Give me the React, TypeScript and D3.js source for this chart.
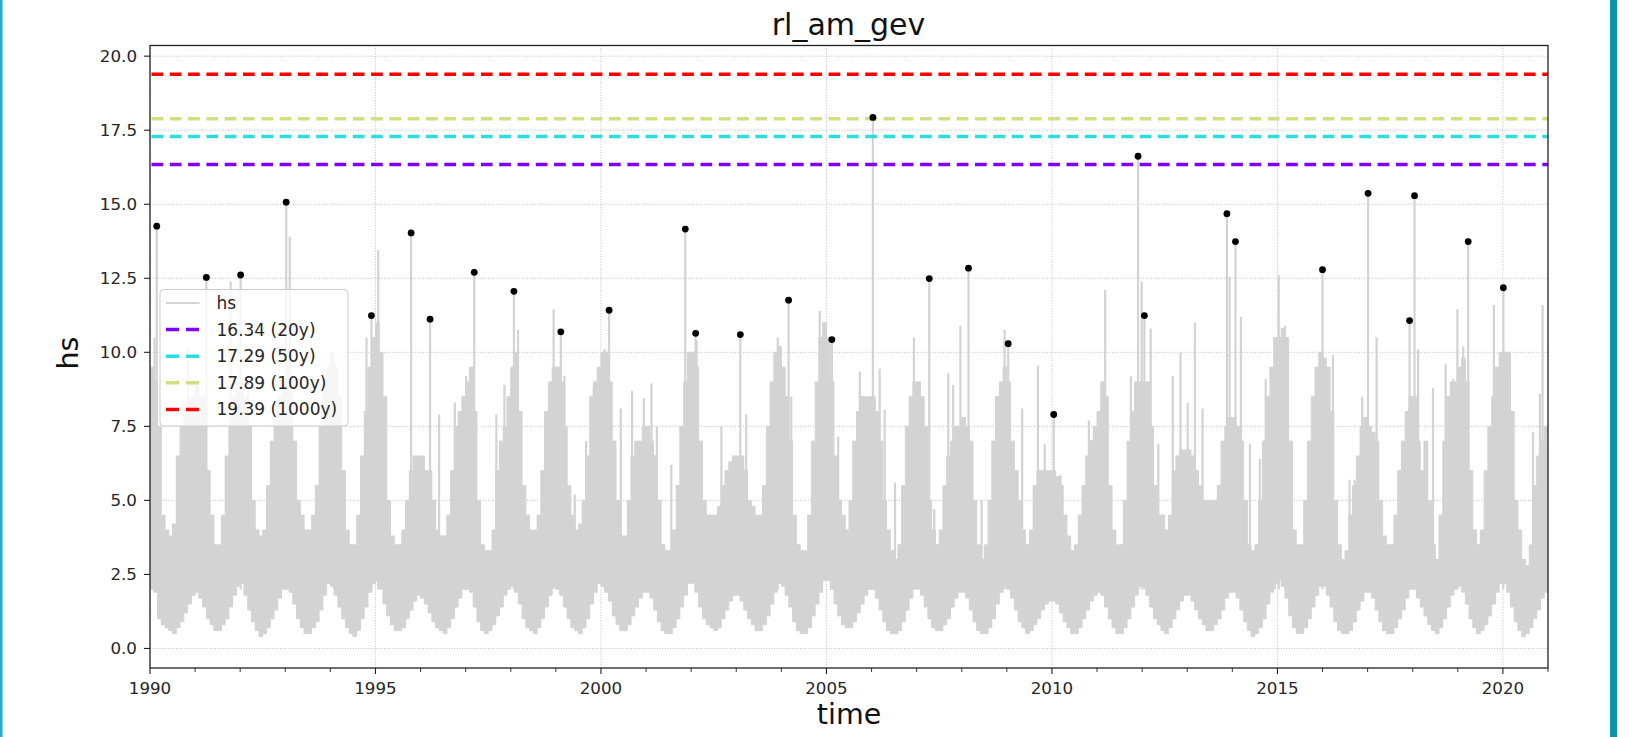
import React from "react";
import * as d3 from "d3";

// ---------- data ----------
const title = "rl_am_gev";
const xLabel = "time";
const yLabel = "hs";
const xTicks = [1990, 1995, 2000, 2005, 2010, 2015, 2020];
const yTicks = [0, 2.5, 5, 7.5, 10, 12.5, 15, 17.5, 20];

// return levels
const rlValues = [16.34, 17.29, 17.89, 19.39];
const rlLabels = ["16.34 (20y)", "17.29 (50y)", "17.89 (100y)", "19.39 (1000y)"];
const rlColors = ["#8000ff", "#2bdddd", "#d4dd80", "#ff0000"];

// annual maxima (decimal year, hs)
const amTimes = [
  1990.15, 1991.25, 1992.01, 1993.02, 1994.91, 1995.79, 1996.21, 1997.19, 1998.07, 1999.11,
  2000.18, 2001.87, 2002.1, 2003.09, 2004.16, 2005.12, 2006.03, 2007.28, 2008.15, 2009.03,
  2010.04, 2011.91, 2012.05, 2013.88, 2014.07, 2016.0, 2017.01, 2017.93, 2018.04, 2019.23,
  2020.01,
];
const amValues = [
  14.26, 12.53, 12.61, 15.07, 11.24, 14.03, 11.12, 12.7, 12.06, 10.69,
  11.42, 14.16, 10.64, 10.6, 11.76, 10.43, 17.93, 12.49, 12.84, 10.29,
  7.9, 16.62, 11.24, 14.68, 13.74, 12.79, 15.37, 11.07, 15.29, 13.74,
  12.18,
];

// monthly upper level of the dense hs trace (Jan..Dec per year)
const hsTop = [
  9.5, 9, 7.5, 4.5, 4, 3.8, 4.2, 6.5, 7.5, 8, 8.5, 8.5, // 1990
  9, 8.5, 8.5, 6, 4.5, 3.5, 3.5, 4.5, 6.5, 7.5, 8.5, 9, // 1991
  9, 8.5, 7.5, 5, 4, 3.8, 4, 5.5, 7, 8, 8.5, 9, // 1992
  9.5, 9, 7, 5, 4.5, 4, 4, 4.5, 5.5, 7.5, 9, 9.5, // 1993
  10, 9.5, 8.5, 6, 4, 3.5, 3.5, 4.5, 6.5, 8, 9.5, 10.5, // 1994
  11, 10, 8.5, 5, 3.8, 3.5, 3.5, 4, 5, 6, 6.5, 6.5, // 1995
  6.5, 6, 6, 5, 4, 3.8, 3.8, 4.5, 6, 7.5, 8, 8.5, // 1996
  9, 9.5, 8, 5, 3.5, 3.3, 3.3, 4, 6, 7, 7.5, 8.5, // 1997
  9.5, 10, 8, 5.5, 4.5, 4, 4, 4.5, 6, 8, 9, 9.5, // 1998
  9.5, 9, 7.5, 5.5, 4.5, 4, 4.2, 5, 6.5, 8.5, 9, 9.5, // 1999
  10, 10, 9, 7, 5, 3.8, 3.8, 5, 6.5, 7, 7, 7.5, // 2000
  7.5, 7, 6.5, 5, 3.5, 3.3, 3.3, 4, 5.5, 7.5, 9, 10, // 2001
  10, 9.5, 7, 5, 4.5, 4.5, 4.5, 4.8, 5.5, 6, 6.3, 6.5, // 2002
  6.5, 6.5, 6, 5, 4.8, 4.5, 4.5, 5.5, 7.5, 9, 10, 10.2, // 2003
  9.5, 8.5, 7, 4.5, 3.5, 3.3, 3.3, 4.5, 7, 9, 10.5, 11, // 2004
  10.5, 9, 6.5, 5, 4.5, 4, 5, 7, 8, 8.5, 8.5, 8.5, // 2005
  8.5, 8, 7, 5, 4, 3.3, 3, 3.5, 5.5, 7.5, 8.5, 9, // 2006
  9, 8.5, 7.5, 5, 4, 3.5, 4, 5.5, 6.5, 7, 7.5, 7.5, // 2007
  7.8, 7.5, 7, 5, 3.5, 3, 3.5, 5, 7, 8.5, 9, 9.5, // 2008
  9, 7, 6, 5, 4, 3.5, 4, 5.5, 6, 6, 6, 6, // 2009
  6, 5.8, 5.5, 4.5, 3.8, 3.3, 3.5, 4.5, 5.5, 6.5, 7, 7.5, // 2010
  8, 9, 8.5, 5.5, 4, 3.5, 3.5, 5, 7, 8, 9, 9, // 2011
  9, 9, 7.5, 5.5, 4.5, 4.5, 4, 4.5, 6, 6.5, 6.7, 6.7, // 2012
  6.7, 6.5, 6, 5.5, 5, 5, 5, 5, 5.5, 7, 7.5, 7.8, // 2013
  7.8, 7.5, 7, 5, 3.5, 3.3, 3.5, 5, 7, 8.5, 9.5, 10.5, // 2014
  10.5, 10.8, 10.5, 7, 4, 3.5, 3.5, 5, 7, 8.5, 9.5, 10, // 2015
  9.8, 9.5, 8, 5, 3.5, 3, 3.3, 4.5, 5.5, 6.5, 7.5, 7.8, // 2016
  7.5, 7.3, 7, 5, 3.8, 3.5, 3.5, 4.5, 6, 7, 8, 8.5, // 2017
  8.5, 7, 6, 7, 5, 3.5, 3, 4.5, 7, 8.5, 9, 9, // 2018
  9.5, 9.8, 9, 6, 4, 3.5, 4, 6, 7.5, 8.5, 9.5, 10, // 2019
  10, 10, 8, 5, 4, 3, 2.8, 3.5, 5.5, 6.5, 7, 7.5, // 2020
];

// monthly lower level of the dense hs trace (Jan..Dec per year)
const hsBottom = [
  2.0, 1.9, 1.0, 0.8, 0.7, 0.6, 0.5, 0.7, 0.9, 1.2, 1.5, 1.8, // 1990
  1.9, 1.7, 1.4, 1.0, 0.8, 0.6, 0.6, 0.8, 1.0, 1.4, 1.8, 2.1, // 1991
  2.2, 1.8, 1.3, 0.9, 0.6, 0.4, 0.5, 0.7, 1.0, 1.3, 1.7, 2.0, // 1992
  2.0, 1.9, 1.5, 1.0, 0.7, 0.5, 0.5, 0.7, 0.9, 1.3, 1.8, 2.2, // 1993
  2.1, 1.8, 1.4, 1.0, 0.7, 0.5, 0.4, 0.6, 1.0, 1.4, 1.9, 2.2, // 1994
  2.3, 2.0, 1.5, 1.1, 0.8, 0.6, 0.6, 0.7, 1.0, 1.3, 1.6, 1.8, // 1995
  1.7, 1.5, 1.2, 0.9, 0.7, 0.6, 0.5, 0.7, 1.0, 1.4, 1.7, 2.0, // 1996
  2.0, 1.9, 1.4, 0.9, 0.6, 0.5, 0.6, 0.8, 1.1, 1.4, 1.8, 2.0, // 1997
  2.1, 1.9, 1.5, 1.0, 0.7, 0.6, 0.5, 0.7, 1.0, 1.4, 1.8, 2.1, // 1998
  2.0, 1.8, 1.4, 1.0, 0.7, 0.6, 0.5, 0.7, 1.0, 1.5, 1.9, 2.2, // 1999
  2.1, 1.9, 1.6, 1.1, 0.8, 0.6, 0.6, 0.8, 1.1, 1.4, 1.7, 1.9, // 2000
  1.9, 1.7, 1.3, 0.9, 0.6, 0.5, 0.5, 0.7, 1.0, 1.4, 1.8, 2.2, // 2001
  2.2, 1.9, 1.4, 1.0, 0.8, 0.7, 0.6, 0.7, 1.0, 1.3, 1.6, 1.8, // 2002
  1.8, 1.6, 1.3, 1.0, 0.8, 0.6, 0.6, 0.8, 1.1, 1.5, 1.9, 2.2, // 2003
  2.1, 1.8, 1.4, 0.9, 0.6, 0.5, 0.5, 0.7, 1.1, 1.5, 1.9, 2.3, // 2004
  2.3, 2.0, 1.5, 1.1, 0.8, 0.7, 0.7, 0.9, 1.2, 1.5, 1.8, 2.0, // 2005
  2.0, 1.7, 1.3, 0.9, 0.6, 0.5, 0.5, 0.6, 0.9, 1.3, 1.7, 2.0, // 2006
  2.0, 1.8, 1.4, 1.0, 0.7, 0.6, 0.6, 0.8, 1.0, 1.4, 1.7, 1.9, // 2007
  1.9, 1.7, 1.3, 0.9, 0.6, 0.5, 0.5, 0.7, 1.0, 1.5, 1.9, 2.1, // 2008
  2.0, 1.7, 1.3, 0.9, 0.7, 0.5, 0.6, 0.8, 1.0, 1.3, 1.5, 1.6, // 2009
  1.6, 1.5, 1.2, 0.9, 0.7, 0.5, 0.5, 0.7, 1.0, 1.3, 1.6, 1.8, // 2010
  1.9, 1.8, 1.4, 1.0, 0.7, 0.5, 0.5, 0.7, 1.0, 1.4, 1.8, 2.1, // 2011
  2.1, 1.8, 1.4, 1.0, 0.8, 0.6, 0.5, 0.7, 1.0, 1.3, 1.6, 1.8, // 2012
  1.8, 1.6, 1.3, 1.0, 0.8, 0.6, 0.6, 0.8, 1.0, 1.3, 1.7, 1.9, // 2013
  1.9, 1.7, 1.3, 0.9, 0.6, 0.4, 0.5, 0.7, 1.0, 1.5, 1.9, 2.2, // 2014
  2.3, 2.1, 1.7, 1.1, 0.7, 0.5, 0.5, 0.7, 1.0, 1.4, 1.8, 2.1, // 2015
  2.1, 1.8, 1.4, 0.9, 0.6, 0.5, 0.5, 0.6, 0.9, 1.3, 1.6, 1.9, // 2016
  1.9, 1.7, 1.3, 0.9, 0.6, 0.5, 0.5, 0.7, 1.0, 1.3, 1.7, 2.0, // 2017
  2.0, 1.7, 1.4, 1.1, 0.8, 0.6, 0.5, 0.7, 1.0, 1.4, 1.8, 2.0, // 2018
  2.1, 1.9, 1.5, 1.0, 0.7, 0.5, 0.6, 0.8, 1.1, 1.5, 1.9, 2.2, // 2019
  2.2, 1.9, 1.4, 0.9, 0.6, 0.4, 0.5, 0.7, 1.0, 1.3, 1.7, 1.9, // 2020
];

// individual storm peaks of the hs trace (decimal year, hs)
const spikeTimes = [
  1990.1, 1990.84, 1991.79, 1992.17, 1993.1, 1994.09, 1994.8, 1995.06,
  1996.41, 1996.76, 1996.88, 1997.01, 1997.68, 1997.86, 1998.16, 1998.95, 1999.19, 1999.42,
  1999.67, 1999.84, 2000.08, 2000.44, 2000.69, 2000.95, 2001.12, 2001.24, 2001.56, 2002.12,
  2002.67, 2003.22, 2003.92, 2004.22, 2004.85, 2005.26, 2005.74, 2006.18, 2006.29, 2006.52,
  2006.94, 2007.39, 2007.7, 2007.81, 2007.97, 2008.44, 2008.95, 2009.34, 2009.69, 2009.84,
  2010.19, 2010.82, 2010.88, 2011.18, 2011.75, 2011.99, 2012.19, 2012.36, 2012.68, 2012.85,
  2013.01, 2013.17, 2013.34, 2013.94, 2014.19, 2014.39, 2014.61, 2014.74, 2014.94, 2015.03,
  2015.17, 2016.23, 2016.6, 2016.71, 2016.88, 2017.2, 2018.12, 2018.45, 2018.73, 2018.9,
  2018.99, 2019.12, 2019.8, 2020.15, 2020.67, 2020.82, 2020.88,
];
const spikeValues = [
  10.5, 10.1, 12.38, 9.0, 13.9, 9.6, 10.5, 13.45,
  7.9, 8.3, 7.6, 9.2, 7.9, 8.9, 10.75, 11.45, 9.2, 5.2,
  7.0, 8.85, 10.1, 8.1, 8.7, 8.45, 8.95, 7.5, 6.2, 10.4,
  7.5, 7.9, 10.5, 8.5, 11.4, 7.15, 9.35, 9.45, 8.05, 5.6,
  10.5, 4.7, 9.3, 8.9, 10.9, 5.0, 10.75, 8.1, 9.55, 6.9,
  5.85, 7.7, 7.05, 12.1, 9.2, 12.4, 10.8, 6.9, 9.2, 10.0,
  8.3, 11.0, 8.1, 12.55, 11.2, 6.9, 6.4, 9.1, 8.9, 12.6,
  10.9, 9.9, 5.7, 5.7, 8.5, 10.5, 10.1, 8.8, 9.6, 9.1,
  11.45, 10.2, 11.6, 9.2, 7.3, 8.6, 11.6,
];

// ---------- layout ----------
const W = 1629;
const H = 737;
const left = 150;
const right = 1548;
const top = 45.5;
const bottom = 668;
const FONT = "'DejaVu Sans', sans-serif";
const GRAY = "#d3d3d3";

export default function App() {
  const x = d3.scaleLinear().domain([1990, 2021]).range([left, right]);
  const y = d3.scaleLinear().domain([-0.66, 20.36]).range([bottom, top]);

  const n = hsTop.length;
  // month-start time for each sample; one closing sample at the series end
  const idx = d3.range(n + 1);
  const monthT = (i: number) => 1990 + i / 12;
  const val = (arr: number[], i: number) => arr[Math.min(i, n - 1)];
  const area = d3
    .area<number>()
    .x((i) => x(monthT(i)))
    .y0((i) => y(val(hsBottom, i)))
    .y1((i) => y(val(hsTop, i)))
    .curve(d3.curveStepAfter);
  const areaPath = area(idx) || "";

  const minorTicks = d3.range(1990, 2022).filter((v) => v % 5 !== 0);

  const legendX = 160;
  const legendY = 289.5;
  const legendW = 188;
  const legendH = 136.5;
  const rowY = (k: number) => 303 + k * 26.6;

  return (
    <svg
      width={W}
      height={H}
      style={{ position: "absolute", left: 0, top: 0, background: "#fff" }}
      fontFamily={FONT}
    >
      <rect x={0} y={0} width={W} height={H} fill="#fff" />
      {/* frame bars */}
      <rect x={0} y={0} width={2.5} height={H} fill="#1eaecb" />
      <rect x={1610} y={0} width={7} height={H} fill="#0b94a9" />

      <defs>
        <clipPath id="plot">
          <rect x={left} y={top} width={right - left} height={bottom - top} />
        </clipPath>
      </defs>

      {/* grid */}
      <g stroke="#b0b0b0" strokeWidth={0.8} strokeDasharray="1 1.6">
        {xTicks.map((t) => (
          <line key={"gx" + t} x1={x(t)} x2={x(t)} y1={top} y2={bottom} />
        ))}
        {yTicks.map((t) => (
          <line key={"gy" + t} x1={left} x2={right} y1={y(t)} y2={y(t)} />
        ))}
      </g>

      <g clipPath="url(#plot)">
        {/* hs trace */}
        <path d={areaPath} fill={GRAY} stroke={GRAY} strokeWidth={1} />
        {spikeTimes.map((t, i) => (
          <line
            key={"s" + i}
            x1={x(t)}
            x2={x(t)}
            y1={y(2)}
            y2={y(spikeValues[i])}
            stroke={GRAY}
            strokeWidth={2.2}
          />
        ))}
        {amTimes.map((t, i) => (
          <line
            key={"as" + i}
            x1={x(t)}
            x2={x(t)}
            y1={y(2)}
            y2={y(amValues[i])}
            stroke={GRAY}
            strokeWidth={2.2}
          />
        ))}

        {/* return level lines */}
        {rlValues.map((v, i) => (
          <line
            key={"rl" + i}
            x1={left + 1.5}
            x2={right}
            y1={y(v)}
            y2={y(v)}
            stroke={rlColors[i]}
            strokeWidth={3.5}
            strokeDasharray="11.7 6.6"
          />
        ))}

        {/* annual maxima */}
        {amTimes.map((t, i) => (
          <circle key={"am" + i} cx={x(t)} cy={y(amValues[i])} r={3.4} fill="#000" />
        ))}
      </g>

      {/* spines */}
      <rect
        x={left}
        y={top}
        width={right - left}
        height={bottom - top}
        fill="none"
        stroke="#222"
        strokeWidth={1.3}
      />

      {/* y ticks */}
      {yTicks.map((t) => (
        <g key={"yt" + t}>
          <line x1={left - 6} x2={left} y1={y(t)} y2={y(t)} stroke="#222" strokeWidth={1.1} />
          <text
            x={left - 13}
            y={y(t)}
            dy="0.35em"
            textAnchor="end"
            fontSize={16.7}
            fill="#262626"
          >
            {t.toFixed(1)}
          </text>
        </g>
      ))}

      {/* x ticks */}
      {xTicks.map((t) => (
        <g key={"xt" + t}>
          <line x1={x(t)} x2={x(t)} y1={bottom} y2={bottom + 6} stroke="#222" strokeWidth={1.1} />
          <text x={x(t)} y={693.5} textAnchor="middle" fontSize={16.7} fill="#262626">
            {t}
          </text>
        </g>
      ))}
      {minorTicks.map((t) => (
        <line
          key={"mt" + t}
          x1={x(t)}
          x2={x(t)}
          y1={bottom}
          y2={bottom + 4}
          stroke="#222"
          strokeWidth={0.9}
        />
      ))}

      {/* labels */}
      <text x={848.5} y={35} textAnchor="middle" fontSize={30} fill="#111">
        {title}
      </text>
      <text x={849} y={724} textAnchor="middle" fontSize={28.5} fill="#111">
        {xLabel}
      </text>
      <text
        transform={`translate(78, 353) rotate(-90)`}
        textAnchor="middle"
        fontSize={28.5}
        fill="#111"
      >
        {yLabel}
      </text>

      {/* legend */}
      <rect
        x={legendX}
        y={legendY}
        width={legendW}
        height={legendH}
        rx={4}
        fill="#fff"
        fillOpacity={0.8}
        stroke="#cccccc"
        strokeWidth={1}
      />
      <line x1={166} x2={199.5} y1={rowY(0)} y2={rowY(0)} stroke={GRAY} strokeWidth={2} />
      <text x={216.5} y={rowY(0)} dy="0.35em" fontSize={17} fill="#262626">
        hs
      </text>
      {rlLabels.map((lab, i) => (
        <g key={"lg" + i}>
          <line
            x1={166}
            x2={199.5}
            y1={rowY(i + 1)}
            y2={rowY(i + 1)}
            stroke={rlColors[i]}
            strokeWidth={3.5}
            strokeDasharray="13 7"
          />
          <text x={216.5} y={rowY(i + 1)} dy="0.35em" fontSize={17} fill="#262626">
            {lab}
          </text>
        </g>
      ))}
    </svg>
  );
}
